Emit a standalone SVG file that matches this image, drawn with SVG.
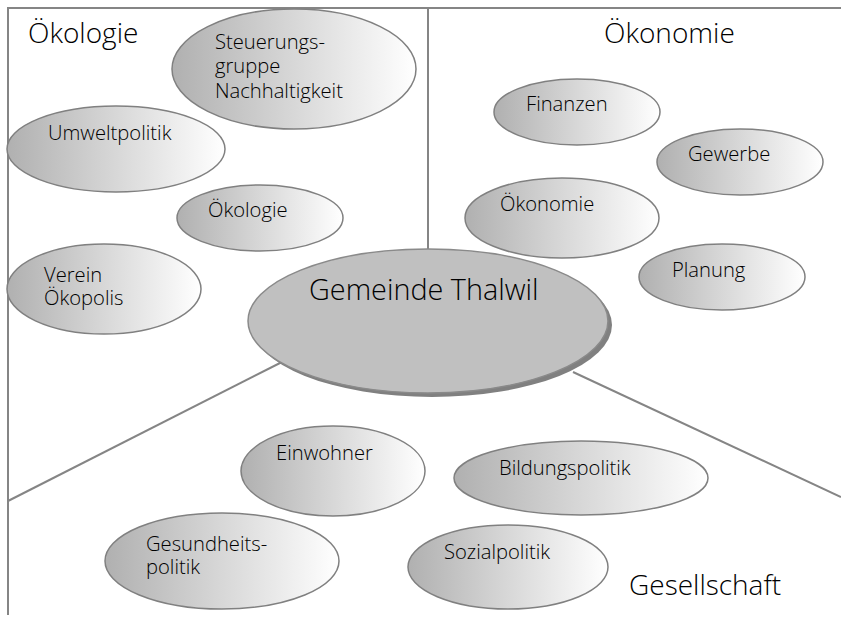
<svg xmlns="http://www.w3.org/2000/svg" width="841" height="619" viewBox="0 0 841 619">
<defs>
<linearGradient id="g" x1="0" y1="0" x2="1" y2="0">
<stop offset="0" stop-color="#b0b0b0"/>
<stop offset="1" stop-color="#ffffff"/>
</linearGradient>
<style>
.frame{fill:none;stroke:#858585;stroke-width:2}
.node{fill:url(#g);stroke:#808080;stroke-width:1.5}
.t{font-family:"Open Sans","Noto Sans",sans-serif;font-size:20.2px;font-weight:350;fill:#000}
.h{font-family:"Open Sans","Noto Sans",sans-serif;font-size:28px;font-weight:350;fill:#000}
.c{font-family:"Open Sans","Noto Sans",sans-serif;font-size:28.8px;font-weight:350;fill:#000}
</style>
</defs>
<rect width="841" height="619" fill="#ffffff"/>
<g id="connectors">
<polyline class="frame" points="8,615 8,8 841,8"/>
<line class="frame" x1="428" y1="8" x2="428" y2="250"/>
<line class="frame" x1="8" y1="501" x2="282" y2="362"/>
<line class="frame" x1="573" y1="372" x2="841" y2="497"/>
</g>
<text class="h" x="28" y="43">Ökologie</text>
<text class="h" x="604" y="43">Ökonomie</text>
<text class="h" x="629" y="595">Gesellschaft</text>
<g id="center">
<ellipse cx="432" cy="325" rx="180" ry="72" fill="#808080"/>
<ellipse cx="428" cy="321" rx="180" ry="72" fill="#c0c0c0" stroke="#8a8a8a" stroke-width="1.5"/>
<text class="c" x="309" y="300">Gemeinde Thalwil</text>
</g>
<g id="steuerungsgruppe">
<ellipse class="node" cx="294" cy="69" rx="122" ry="60"/>
<text class="t" x="215" y="49">Steuerungs-</text>
<text class="t" x="215" y="73">gruppe</text>
<text class="t" x="215" y="98">Nachhaltigkeit</text>
</g>
<g id="umweltpolitik">
<ellipse class="node" cx="116" cy="149" rx="109" ry="43"/>
<text class="t" x="48" y="140">Umweltpolitik</text>
</g>
<g id="oekologie">
<ellipse class="node" cx="260" cy="218" rx="83" ry="33"/>
<text class="t" x="208" y="217">Ökologie</text>
</g>
<g id="verein">
<ellipse class="node" cx="104" cy="289" rx="97" ry="45"/>
<text class="t" x="44" y="282">Verein</text>
<text class="t" x="44" y="305">Ökopolis</text>
</g>
<g id="finanzen">
<ellipse class="node" cx="577" cy="112" rx="83" ry="33"/>
<text class="t" x="526" y="111">Finanzen</text>
</g>
<g id="gewerbe">
<ellipse class="node" cx="740" cy="162" rx="83" ry="33"/>
<text class="t" x="688" y="161">Gewerbe</text>
</g>
<g id="oekonomie">
<ellipse class="node" cx="562" cy="218" rx="97" ry="40"/>
<text class="t" x="500" y="211">Ökonomie</text>
</g>
<g id="planung">
<ellipse class="node" cx="722" cy="277" rx="83" ry="33"/>
<text class="t" x="672" y="277">Planung</text>
</g>
<g id="einwohner">
<ellipse class="node" cx="333" cy="471" rx="92" ry="45"/>
<text class="t" x="276" y="460">Einwohner</text>
</g>
<g id="bildungspolitik">
<ellipse class="node" cx="581" cy="478" rx="127" ry="37"/>
<text class="t" x="499" y="475">Bildungspolitik</text>
</g>
<g id="gesundheitspolitik">
<ellipse class="node" cx="222" cy="561" rx="117" ry="48"/>
<text class="t" x="146" y="551">Gesundheits-</text>
<text class="t" x="146" y="574">politik</text>
</g>
<g id="sozialpolitik">
<ellipse class="node" cx="508" cy="567" rx="100" ry="42"/>
<text class="t" x="444" y="559">Sozialpolitik</text>
</g>
</svg>
